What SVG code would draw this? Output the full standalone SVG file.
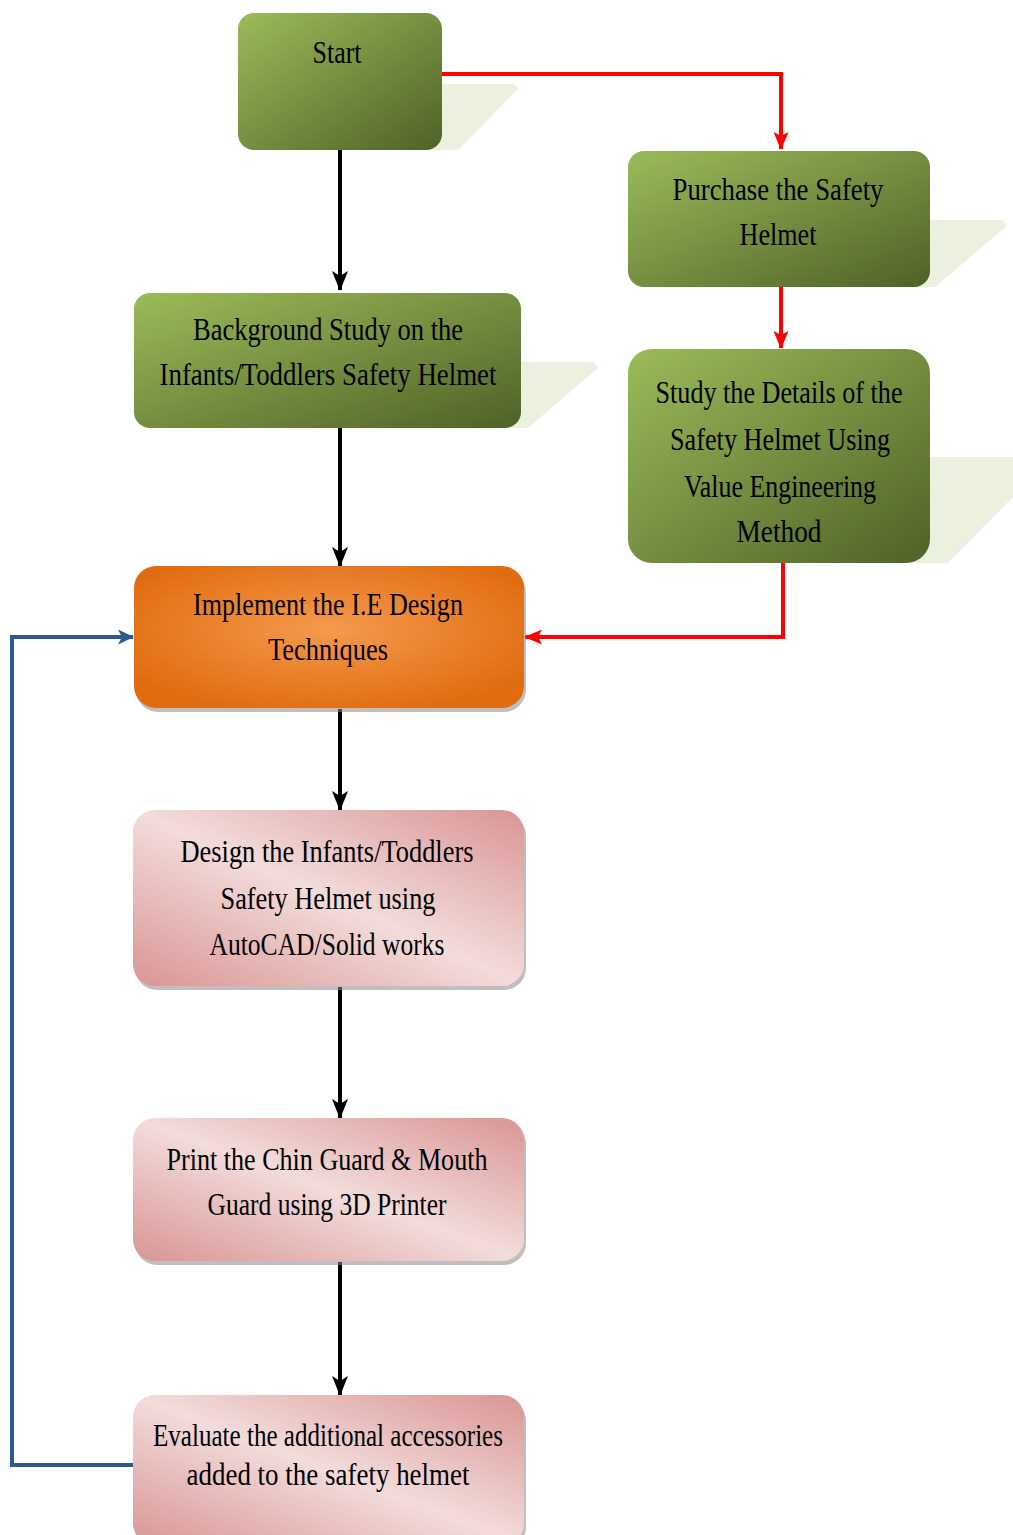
<svg xmlns="http://www.w3.org/2000/svg" width="1013" height="1535" viewBox="0 0 1013 1535">
<style>
.t{font-family:"Liberation Serif","Times New Roman",serif;font-size:32px;fill:#000;text-anchor:middle}
.sh{fill:#ebf1de}
.ds{fill:#8a8a8a;opacity:0.55}
.blk{fill:none;stroke:#000;stroke-width:4}
.red{fill:none;stroke:#ff0000;stroke-width:4}
.blu{fill:none;stroke:#2d5b8e;stroke-width:4}
</style>
<defs>
<linearGradient id="g" x1="0" y1="0" x2="1" y2="1">
<stop offset="0" stop-color="#9bbb59"/>
<stop offset="1" stop-color="#4f6228"/>
</linearGradient>
<radialGradient id="o" cx="0.5" cy="0.45" r="0.6">
<stop offset="0" stop-color="#f59a4d"/>
<stop offset="1" stop-color="#e06c10"/>
</radialGradient>
<linearGradient id="p" x1="0" y1="1" x2="1" y2="0">
<stop offset="0" stop-color="#d99594"/>
<stop offset="0.5" stop-color="#f2dcdb"/>
<stop offset="1" stop-color="#d99594"/>
</linearGradient>
<marker id="ab" markerWidth="20" markerHeight="16" refX="19" refY="8" orient="auto" markerUnits="userSpaceOnUse" viewBox="0 0 20 16">
<path d="M0,0 L20,8 L0,16 L5,8 z" fill="#000"/>
</marker>
<marker id="ar" markerWidth="18" markerHeight="15" refX="17" refY="7.5" orient="auto" markerUnits="userSpaceOnUse" viewBox="0 0 18 15">
<path d="M0,0 L18,7.5 L0,15 L4,7.5 z" fill="#ff0000"/>
</marker>
<marker id="au" markerWidth="16" markerHeight="15" refX="15" refY="7.5" orient="auto" markerUnits="userSpaceOnUse" viewBox="0 0 16 15">
<path d="M0,0 L16,7.5 L0,15 L4,7.5 z" fill="#2d5b8e"/>
</marker>
</defs>
<rect width="1013" height="1535" fill="#fff"/>

<g id="connectors">
<path class="blk" d="M340,150 V290" marker-end="url(#ab)"/>
<path class="blk" d="M340,428 V566" marker-end="url(#ab)"/>
<path class="blk" d="M340,709 V810" marker-end="url(#ab)"/>
<path class="blk" d="M340,987 V1118" marker-end="url(#ab)"/>
<path class="blk" d="M340,1262 V1395" marker-end="url(#ab)"/>
<path class="red" d="M442,74 H781 V149" marker-end="url(#ar)"/>
<path class="red" d="M781,287 V348" marker-end="url(#ar)"/>
<path class="red" d="M783,563 V637 H525" marker-end="url(#ar)"/>
<path class="blu" d="M133,1465 H12 V637 H133" marker-end="url(#au)"/>
</g>

<g id="start">
<polygon class="sh" points="430,84 514,84 518,89 458,150 430,150"/>
<rect x="238" y="13" width="204" height="137" rx="16" fill="url(#g)"/>
<text class="t" x="337" y="63" textLength="49" lengthAdjust="spacingAndGlyphs">Start</text>
</g>

<g id="purchase">
<polygon class="sh" points="915,220 1003,220 1007,226 935,287 915,287"/>
<rect x="628" y="151" width="302" height="136" rx="16" fill="url(#g)"/>
<text class="t" x="778" y="200" textLength="211" lengthAdjust="spacingAndGlyphs">Purchase the Safety</text>
<text class="t" x="778" y="245" textLength="77" lengthAdjust="spacingAndGlyphs">Helmet</text>
</g>

<g id="background">
<polygon class="sh" points="505,362 594,362 598,368 528,428 505,428"/>
<rect x="134" y="293" width="387" height="135" rx="16" fill="url(#g)"/>
<text class="t" x="328" y="340" textLength="270" lengthAdjust="spacingAndGlyphs">Background Study on the</text>
<text class="t" x="328" y="385" textLength="337" lengthAdjust="spacingAndGlyphs">Infants/Toddlers Safety Helmet</text>
</g>

<g id="study">
<polygon class="sh" points="915,457 1013,457 1013,497 948,563 915,563"/>
<rect x="628" y="349" width="302" height="214" rx="24" fill="url(#g)"/>
<text class="t" x="779" y="403" textLength="247" lengthAdjust="spacingAndGlyphs">Study the Details of the</text>
<text class="t" x="780" y="450" textLength="220" lengthAdjust="spacingAndGlyphs">Safety Helmet Using</text>
<text class="t" x="780" y="497" textLength="192" lengthAdjust="spacingAndGlyphs">Value Engineering</text>
<text class="t" x="779" y="542" textLength="85" lengthAdjust="spacingAndGlyphs">Method</text>
</g>

<g id="implement">
<rect x="136" y="570" width="390" height="142" rx="22" class="ds"/>
<rect x="134" y="566" width="390" height="142" rx="22" fill="url(#o)"/>
<text class="t" x="328" y="615" textLength="270" lengthAdjust="spacingAndGlyphs">Implement the I.E Design</text>
<text class="t" x="328" y="660" textLength="120" lengthAdjust="spacingAndGlyphs">Techniques</text>
</g>

<g id="design">
<rect x="135" y="814" width="391" height="176" rx="22" class="ds"/>
<rect x="133" y="810" width="391" height="176" rx="22" fill="url(#p)"/>
<text class="t" x="327" y="862" textLength="293" lengthAdjust="spacingAndGlyphs">Design the Infants/Toddlers</text>
<text class="t" x="328" y="909" textLength="215" lengthAdjust="spacingAndGlyphs">Safety Helmet using</text>
<text class="t" x="327" y="955" textLength="235" lengthAdjust="spacingAndGlyphs">AutoCAD/Solid works</text>
</g>

<g id="print">
<rect x="135" y="1122" width="391" height="143" rx="22" class="ds"/>
<rect x="133" y="1118" width="391" height="143" rx="22" fill="url(#p)"/>
<text class="t" x="327" y="1170" textLength="321" lengthAdjust="spacingAndGlyphs">Print the Chin Guard &amp; Mouth</text>
<text class="t" x="327" y="1215" textLength="239" lengthAdjust="spacingAndGlyphs">Guard using 3D Printer</text>
</g>

<g id="evaluate">
<rect x="135" y="1399" width="391" height="150" rx="22" class="ds"/>
<rect x="133" y="1395" width="391" height="150" rx="22" fill="url(#p)"/>
<text class="t" x="328" y="1446" textLength="350" lengthAdjust="spacingAndGlyphs">Evaluate the additional accessories</text>
<text class="t" x="328" y="1485" textLength="283" lengthAdjust="spacingAndGlyphs">added to the safety helmet</text>
</g>
</svg>
